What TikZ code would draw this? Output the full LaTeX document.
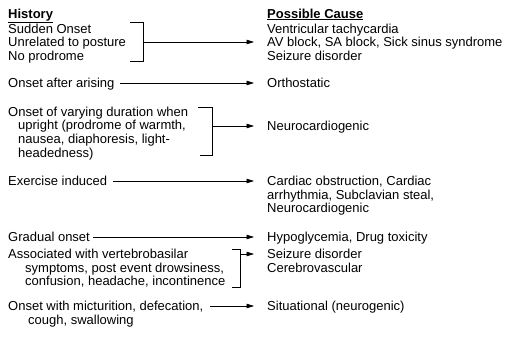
\documentclass[tikz,border=0pt]{standalone}
\usepackage{fontspec}
\setmainfont{Liberation Sans}
\usetikzlibrary{arrows.meta}
\begin{document}
\begin{tikzpicture}[x=1pt,y=-1pt,
  % multi-line nodes sit on the baseline of their last line
  txt/.style={anchor=base west,inner sep=0pt,align=left,font=\fontsize{13}{13.7}\selectfont},
  link/.style={line width=0.6pt,-{Triangle[length=7.5pt,width=4.5pt]},shorten >=13pt},
  bracket/.style={line width=0.6pt}]
\path[use as bounding box] (0,0) rectangle (511,338);

% column headings
\node[txt] (hhead) at (8,18) {\underline{\textbf{History}}};
\node[txt] (chead) at (267,18) {\underline{\textbf{Possible Cause}}};

% history entries
\node[txt] (h1) at (8,60.4) {Sudden Onset\\Unrelated to posture\\No prodrome};
\node[txt] (h2) at (8,87.5) {Onset after arising};
\node[txt] (h3) at (8,157.1) {Onset of varying duration when\\\hspace*{10pt}upright (prodrome of warmth,\\\hspace*{10pt}nausea, diaphoresis, light-\\\hspace*{10pt}headedness)};
\node[txt] (h4) at (8,185.5) {Exercise induced};
\node[txt] (h5) at (8,241.5) {Gradual onset};
\node[txt] (h6) at (8,285.9) {Associated with vertebrobasilar\\\hspace*{17pt}symptoms, post event drowsiness,\\\hspace*{17pt}confusion, headache, incontinence};
\node[txt] (h7) at (8,324.2) {Onset with micturition, defecation,\\\hspace*{20pt}cough, swallowing};

% possible causes
\node[txt] (c1) at (267,60.4) {Ventricular tachycardia\\AV block, SA block, Sick sinus syndrome\\Seizure disorder};
\node[txt] (c2) at (267,87.5) {Orthostatic};
\node[txt] (c3) at (267,130.5) {Neurocardiogenic};
\node[txt] (c4) at (267,212.9) {Cardiac obstruction, Cardiac\\arrhythmia, Subclavian steal,\\Neurocardiogenic};
\node[txt] (c5) at (267,241.5) {Hypoglycemia, Drug toxicity};
\node[txt] (c6) at (267,272.2) {Seizure disorder\\Cerebrovascular};
\node[txt] (c7) at (267,310.5) {Situational (neurogenic)};

% brackets grouping multi-line histories
\draw[bracket] (130,22) -- (143,22) -- (143,61) -- (130,61);
\draw[bracket] (198,107) -- (212,107) -- (212,155) -- (200,155);
\draw[bracket] (232,249) -- (240,249) -- (240,287) -- (232,287);

% start points of the connectors
\coordinate (s1) at (143,42);
\coordinate (s2) at (120,83);
\coordinate (s3) at (212,126);
\coordinate (s4) at (113,181);
\coordinate (s5) at (93,237);
\coordinate (s6) at (240,254);
\coordinate (s7) at (210,306);

\draw[link] (s1) -- (s1 -| c1.west);
\draw[link] (s2) -- (s2 -| c2.west);
\draw[link] (s3) -- (s3 -| c3.west);
\draw[link] (s4) -- (s4 -| c4.west);
\draw[link] (s5) -- (s5 -| c5.west);
\draw[link] (s6) -- (s6 -| c6.west);
\draw[link] (s7) -- (s7 -| c7.west);
\end{tikzpicture}
\end{document}
